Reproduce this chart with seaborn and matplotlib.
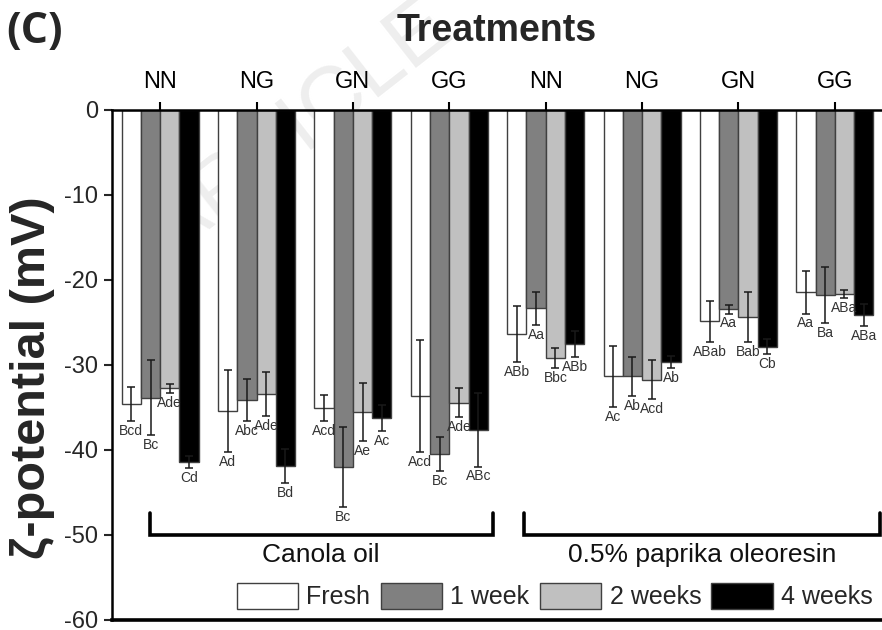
import numpy as np
import pandas as pd
import seaborn as sns
import matplotlib.pyplot as plt
from matplotlib.patches import Patch

# ---------------- data ----------------
treatments = ["C-NN", "C-NG", "C-GN", "C-GG", "P-NN", "P-NG", "P-GN", "P-GG"]
tick_labels = ["NN", "NG", "GN", "GG", "NN", "NG", "GN", "GG"]
times = ["Fresh", "1 week", "2 weeks", "4 weeks"]

fresh = [-34.6, -35.5, -35.1, -33.7, -26.4, -31.4, -24.9, -21.5]
week1 = [-33.9, -34.2, -42.1, -40.5, -23.4, -31.4, -23.5, -21.8]
week2 = [-32.8, -33.5, -35.6, -34.5, -29.2, -31.8, -24.4, -21.7]
week4 = [-41.5, -41.9, -36.3, -37.7, -27.6, -29.7, -27.9, -24.2]

fresh_err = [2.0, 4.8, 1.5, 6.6, 3.3, 3.6, 2.4, 2.5]
week1_err = [4.4, 2.5, 4.7, 2.0, 1.9, 2.3, 0.5, 3.3]
week2_err = [0.5, 2.6, 3.4, 1.7, 1.2, 2.3, 2.9, 0.5]
week4_err = [0.7, 2.0, 1.5, 4.3, 1.5, 0.7, 0.9, 1.3]

fresh_lbl = ["Bcd", "Ad", "Acd", "Acd", "ABb", "Ac", "ABab", "Aa"]
week1_lbl = ["Bc", "Abc", "Bc", "Bc", "Aa", "Ab", "Aa", "Ba"]
week2_lbl = ["Ade", "Ade", "Ae", "Ade", "Bbc", "Acd", "Bab", "ABa"]
week4_lbl = ["Cd", "Bd", "Ac", "ABc", "ABb", "Ab", "Cb", "ABa"]

oil_names = ["Canola oil", "0.5% paprika oleoresin"]

colors = ["#ffffff", "#808080", "#c0c0c0", "#000000"]

# ---------------- frame ----------------
values = [fresh, week1, week2, week4]
errs = [fresh_err, week1_err, week2_err, week4_err]
labels = [fresh_lbl, week1_lbl, week2_lbl, week4_lbl]

rows = []
for t, vals in zip(times, values):
    for tr, v in zip(treatments, vals):
        rows.append({"treatment": tr, "time": t, "value": v})
df = pd.DataFrame(rows)

sns.set_style("ticks")
plt.rcParams["font.family"] = ["Liberation Sans", "DejaVu Sans"]
plt.rcParams["axes.unicode_minus"] = False

fig = plt.figure(figsize=(8.82, 6.30), dpi=100)
ax = fig.add_axes([112 / 882, 10.5 / 630, 771 / 882, 510 / 630])
ax.patch.set_alpha(0)

# faint watermark (behind the plot)
fig.text(300 / 882, 1 - 130 / 630, "ARTICLE", rotation=38, fontsize=62,
         color="#eeeeee", ha="center", va="center", zorder=-5)

sns.barplot(data=df, x="treatment", y="value", hue="time", order=treatments,
            hue_order=times, palette=colors, saturation=1, width=0.8,
            edgecolor="#404040", linewidth=1.0, errorbar=None, legend=False,
            ax=ax, zorder=2)

for cont, e, lab in zip(ax.containers, errs, labels):
    xs = [b.get_x() + b.get_width() / 2 for b in cont]
    ys = [b.get_y() + b.get_height() for b in cont]
    ax.errorbar(xs, ys, yerr=e, fmt="none", ecolor="#1a1a1a", elinewidth=1.1,
                capsize=3.2, capthick=1.1, zorder=3)
    for x, y, ee, s in zip(xs, ys, e, lab):
        ax.text(x, y - ee - 0.35, s, ha="center", va="top", fontsize=10,
                color="#333333", zorder=4)

# brackets
brackets = [(-0.11, 3.45), (3.77, 7.47)]
for (x0, x1), name in zip(brackets, oil_names):
    ax.plot([x0, x0, x1, x1], [-47.5, -50, -50, -47.5], color="black", lw=2.6,
            solid_joinstyle="miter", zorder=3, clip_on=False)
    ax.text((x0 + x1) / 2, -51.0, name, ha="center", va="top", fontsize=19,
            color="#111111")

# axes styling
ax.set_xlim(-0.5, 7.5)
ax.set_ylim(-60, 0)
ax.set_yticks(np.arange(-60, 1, 10))
ax.xaxis.tick_top()
ax.set_xticks(range(len(treatments)))
ax.set_xticklabels(tick_labels, fontsize=17)
ax.tick_params(axis="x", direction="out", length=6, width=1.5, pad=6, colors="black")
ax.tick_params(axis="y", direction="out", length=6, width=1.5, pad=4, labelsize=17)
ax.set_xlabel("")
ax.set_ylabel("")
for s in ["top", "left"]:
    ax.spines[s].set_linewidth(1.8)
    ax.spines[s].set_color("black")
ax.spines["bottom"].set_linewidth(2.6)
ax.spines["bottom"].set_color("black")
ax.spines["right"].set_visible(False)

# legend
handles = [Patch(facecolor=c, edgecolor="#404040", linewidth=1.0) for c in colors]
ax.legend(handles, times, ncol=4, loc="lower right", bbox_to_anchor=(1.0, 0.0),
          frameon=False, fontsize=18, handlelength=2.45, handleheight=1.25,
          handletextpad=0.35, columnspacing=0.4, borderaxespad=0.3, borderpad=0.1)

fig.text(33 / 882, 1 - 378 / 630, "ζ-potential (mV)", rotation=90, ha="center",
         va="center", fontsize=35, fontweight="bold")
fig.text(497 / 882, 1 - 31 / 630, "Treatments", ha="center", va="center",
         fontsize=27, fontweight="bold")
fig.text(6 / 882, 1 - 31 / 630, "(C)", ha="left", va="center", fontsize=31,
         fontweight="bold", family=["Open Sans", "DejaVu Sans"])

fig.savefig("out.png", dpi=100)
